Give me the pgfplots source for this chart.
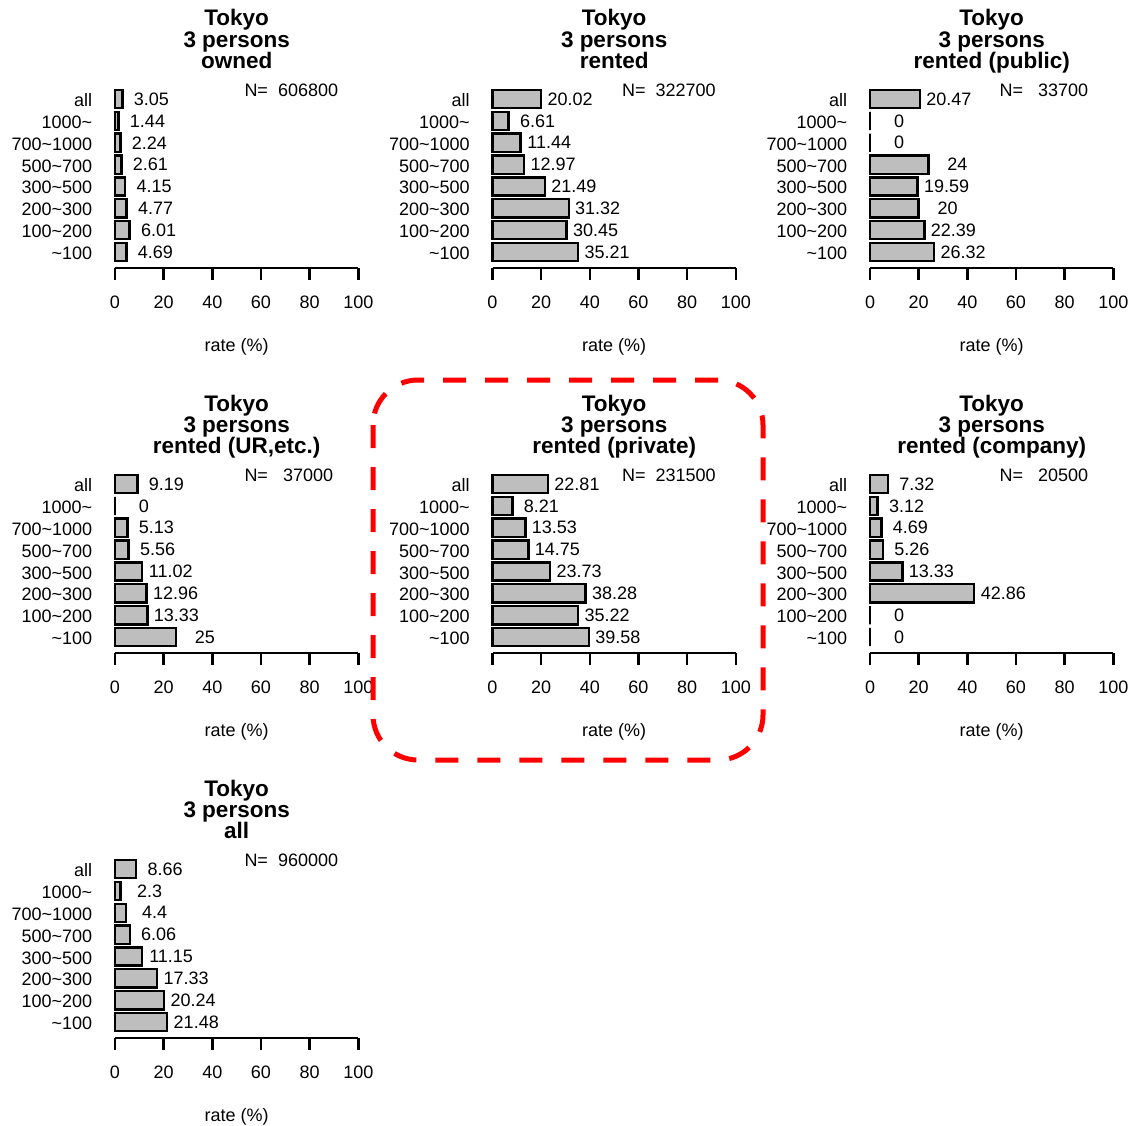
\documentclass[border=0pt]{standalone}
\usepackage{pgfplots}
\pgfplotsset{compat=1.18}
\usepackage{pgfplotstable}
\usepackage{fontspec}
\setmainfont{Liberation Sans}
\newcommand\fs{\fontsize{18pt}{21.6pt}\selectfont}
\newcommand\tfs{\fontsize{22.5pt}{27pt}\selectfont\bfseries}
\newcommand\tl{\textasciitilde}
\definecolor{barfill}{RGB}{190,190,190}

\pgfplotstableread{
k v
8 3.05
7 1.44
6 2.24
5 2.61
4 4.15
3 4.77
2 6.01
1 4.69
}\tA
\pgfplotstableread{
k v
8 20.02
7 6.61
6 11.44
5 12.97
4 21.49
3 31.32
2 30.45
1 35.21
}\tB
\pgfplotstableread{
k v
8 20.47
7 0
6 0
5 24
4 19.59
3 20
2 22.39
1 26.32
}\tC
\pgfplotstableread{
k v
8 9.19
7 0
6 5.13
5 5.56
4 11.02
3 12.96
2 13.33
1 25
}\tD
\pgfplotstableread{
k v
8 22.81
7 8.21
6 13.53
5 14.75
4 23.73
3 38.28
2 35.22
1 39.58
}\tE
\pgfplotstableread{
k v
8 7.32
7 3.12
6 4.69
5 5.26
4 13.33
3 42.86
2 0
1 0
}\tF
\pgfplotstableread{
k v
8 8.66
7 2.3
6 4.4
5 6.06
4 11.15
3 17.33
2 20.24
1 21.48
}\tG

\pgfplotsset{panel/.style={
  x=2.433pt, y=21.85pt,
  xmin=0, xmax=100, ymin=0.27, ymax=8.5,
  anchor=south west,
  xbar, bar width=18.2pt,
  axis x line*=bottom, axis y line*=left,
  every non boxed x axis/.style={}, every non boxed y axis/.style={},
  x axis line style={-, line width=2.4pt, black},
  y axis line style={draw=none},
  xtick={0,20,40,60,80,100}, ytick={1,2,3,4,5,6,7,8},
  yticklabels={\tl100, 100\tl200, 200\tl300, 300\tl500, 500\tl700, 700\tl1000, 1000\tl, all},
  tick align=outside, major tick length=12pt,
  xtick style={line width=2.4pt, black},
  ytick style={draw=none},
  ticklabel style={font=\fs},
  xticklabel style={anchor=base, yshift=-28.3pt},
  yticklabel style={anchor=base east, inner sep=0pt, xshift=-10.7pt, yshift=-7.5pt},
  /pgf/number format/assume math mode=true,
  clip=false,
}}

\newcommand\panel[5]{%
\begin{axis}[panel, at={(#1pt,-#2pt)}]
\addplot[xbar, fill=barfill, draw=black, line width=2.4pt,
  nodes near coords, point meta=explicit symbolic,
  every node near coord/.append style={anchor=center, xshift=29pt, font=\fs, text=black}]
  table[x=v,y=k,meta=v]{#5};
\end{axis}
\node[font=\tfs, anchor=base, inner sep=0pt] at (#1pt+121.65pt,-#2pt+242pt) {Tokyo};
\node[font=\tfs, anchor=base, inner sep=0pt] at (#1pt+121.65pt,-#2pt+220.8pt) {3 persons};
\node[font=\tfs, anchor=base, inner sep=0pt] at (#1pt+121.65pt,-#2pt+199.6pt) {#3};
\node[font=\fs, anchor=base west, inner sep=0pt] at (#1pt+129.3pt,-#2pt+171.3pt) {#4};
\node[font=\fs, anchor=base, inner sep=0pt] at (#1pt+121.65pt,-#2pt-83.5pt) {rate (\%)};
}

\begin{document}
\begin{tikzpicture}
\useasboundingbox (0pt,0pt) rectangle (1136pt,-1126pt);
\panel{115}{268}{owned}{N=\ \ 606800}{\tA}
\panel{492.5}{268}{rented}{N=\ \ 322700}{\tB}
\panel{870}{268}{rented (public)}{N=\ \ \ 33700}{\tC}
\panel{115}{653}{rented (UR,etc.)}{N=\ \ \ 37000}{\tD}
\panel{492.5}{653}{rented (private)}{N=\ \ 231500}{\tE}
\panel{870}{653}{rented (company)}{N=\ \ \ 20500}{\tF}
\panel{115}{1038}{all}{N=\ \ 960000}{\tG}
\draw[color=red, line width=5pt, dash pattern=on 23pt off 19pt, rounded corners=45pt] (373pt,-380pt) rectangle (763pt,-760pt);
\end{tikzpicture}
\end{document}
